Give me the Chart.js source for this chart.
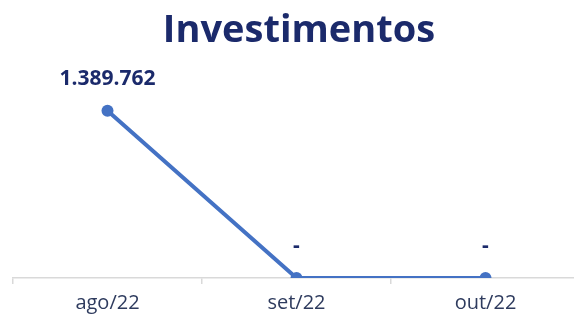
<!DOCTYPE html>
<html>
<head>
<meta charset="utf-8">
<script src="https://cdn.jsdelivr.net/npm/chart.js@4"></script>
<style>
    html, body { margin: 0; padding: 0; background: #fff; overflow: hidden; }
    canvas { display: block; }
</style>
</head>
<body>
<canvas id="myChart" width="586" height="316"></canvas>
<script>
const months = ['ago/22', 'set/22', 'out/22'];
const investimentos = [1389762, 0, 0];

const navy = '#1b2a6b';
const lineBlue = '#4472c4';

function formatValue(v) {
    if (!v) return '-';
    return String(Math.round(v)).replace(/\B(?=(\d{3})+(?!\d))/g, '.');
}

// draws the value above each point
const valueLabels = {
    id: 'valueLabels',
    afterDatasetsDraw(chart) {
        const ctx = chart.ctx;
        const meta = chart.getDatasetMeta(0);
        ctx.save();
        ctx.fillStyle = navy;
        ctx.font = 'bold 21px "Open Sans", sans-serif';
        ctx.textAlign = 'center';
        ctx.textBaseline = 'middle';
        meta.data.forEach((pt, i) => {
            ctx.fillText(formatValue(investimentos[i]), pt.x, pt.y - 32);
        });
        ctx.restore();
    }
};

const ctx = document.getElementById('myChart').getContext('2d');
new Chart(ctx, {
    type: 'line',
    data: {
        labels: months,
        datasets: [{
            data: investimentos,
            borderColor: lineBlue,
            backgroundColor: lineBlue,
            borderWidth: 4,
            pointRadius: 6,
            pointBackgroundColor: lineBlue,
            pointBorderWidth: 0,
            tension: 0
        }]
    },
    options: {
        responsive: false,
        devicePixelRatio: 1,
        animation: false,
        layout: { padding: { left: 13, right: 1, top: 0, bottom: 1 } },
        plugins: {
            legend: { display: false },
            tooltip: { enabled: false },
            title: {
                display: true,
                text: 'Investimentos',
                color: navy,
                font: { family: '"Open Sans", sans-serif', size: 38, weight: 'bold' },
                padding: { top: 8, bottom: 4 }
            }
        },
        scales: {
            x: {
                offset: true,
                afterFit(scale) { scale.height = 37; },
                grid: {
                    display: true,
                    offset: true,
                    drawOnChartArea: false,
                    drawTicks: true,
                    tickLength: 6,
                    color: '#d9d9d9',
                    lineWidth: 1.5
                },
                border: { display: true, color: '#d9d9d9', width: 1.5 },
                ticks: {
                    color: '#2e3b5e',
                    padding: 7,
                    font: { family: '"Open Sans", sans-serif', size: 20 }
                }
            },
            y: {
                display: false,
                min: 0,
                max: 1832000
            }
        }
    },
    plugins: [valueLabels]
});
</script>
</body>
</html>
